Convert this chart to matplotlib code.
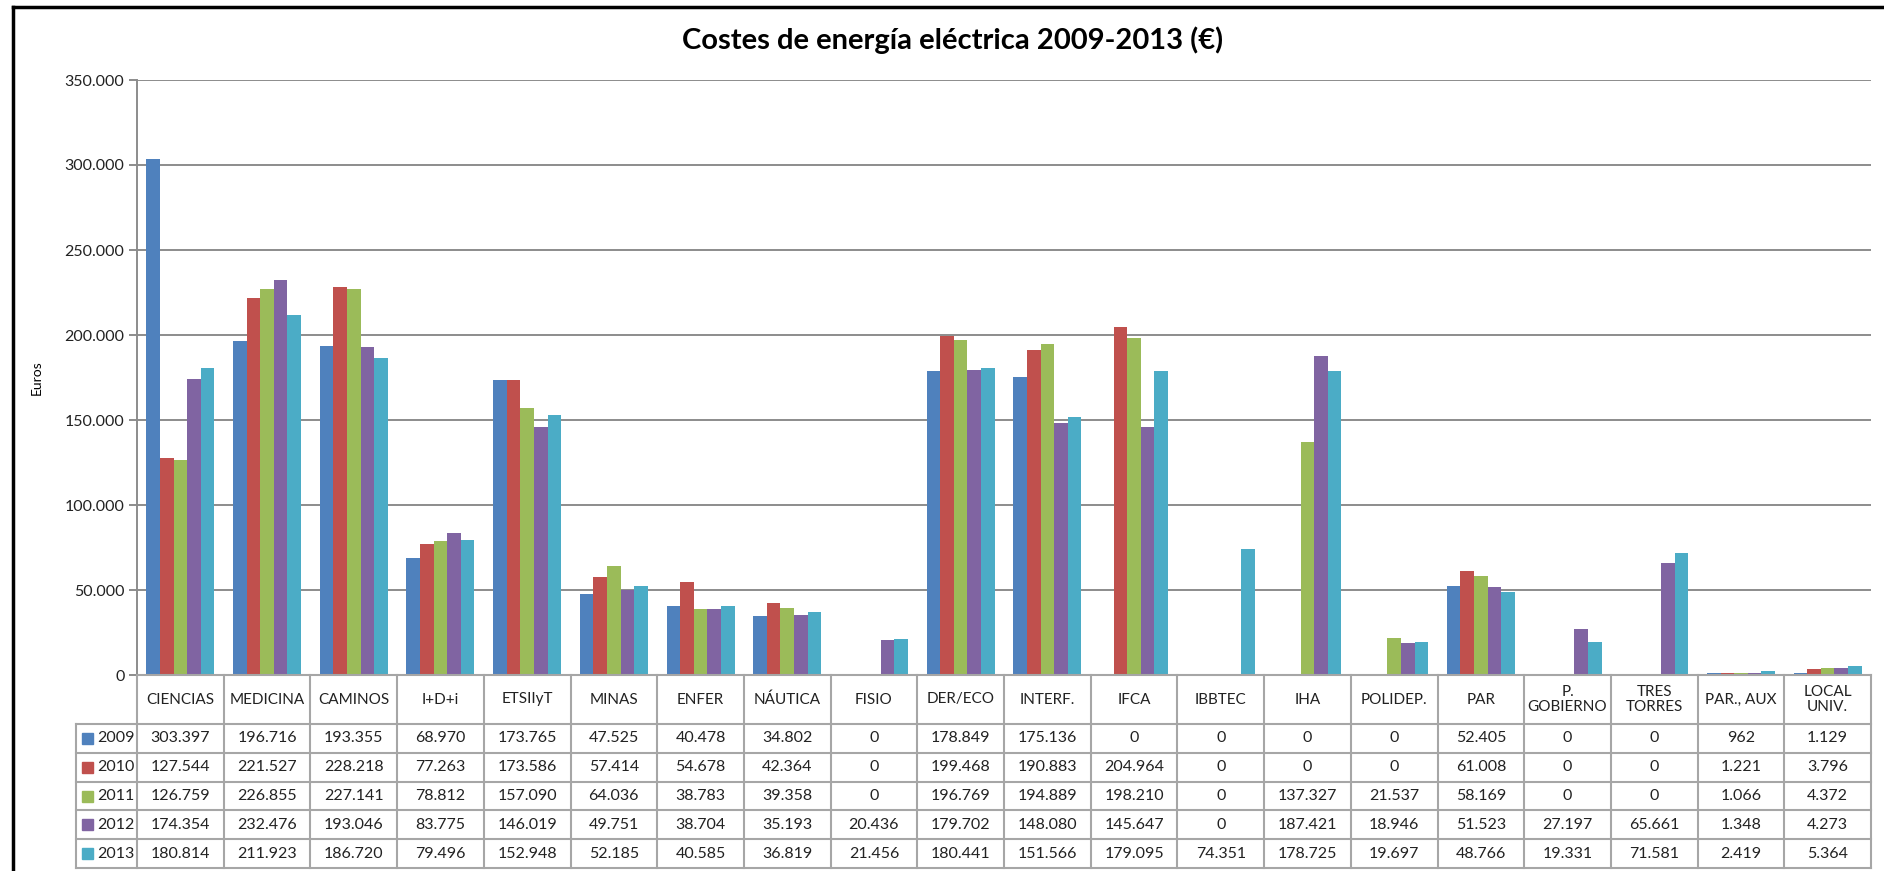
import matplotlib.pyplot as plt
from matplotlib.lines import Line2D
from matplotlib.patches import Rectangle
import numpy as np

plt.rcParams['font.family'] = ['Lato', 'DejaVu Sans']

categories = ['CIENCIAS', 'MEDICINA', 'CAMINOS', 'I+D+i', 'ETSIIyT', 'MINAS', 'ENFER',
              'NÁUTICA', 'FISIO', 'DER/ECO', 'INTERF.', 'IFCA', 'IBBTEC', 'IHA',
              'POLIDEP.', 'PAR', 'P.\nGOBIERNO', 'TRES\nTORRES', 'PAR., AUX', 'LOCAL\nUNIV.']
years = ['2009', '2010', '2011', '2012', '2013']
v2009 = [303397, 196716, 193355, 68970, 173765, 47525, 40478, 34802, 0, 178849,
         175136, 0, 0, 0, 0, 52405, 0, 0, 962, 1129]
v2010 = [127544, 221527, 228218, 77263, 173586, 57414, 54678, 42364, 0, 199468,
         190883, 204964, 0, 0, 0, 61008, 0, 0, 1221, 3796]
v2011 = [126759, 226855, 227141, 78812, 157090, 64036, 38783, 39358, 0, 196769,
         194889, 198210, 0, 137327, 21537, 58169, 0, 0, 1066, 4372]
v2012 = [174354, 232476, 193046, 83775, 146019, 49751, 38704, 35193, 20436, 179702,
         148080, 145647, 0, 187421, 18946, 51523, 27197, 65661, 1348, 4273]
v2013 = [180814, 211923, 186720, 79496, 152948, 52185, 40585, 36819, 21456, 180441,
         151566, 179095, 74351, 178725, 19697, 48766, 19331, 71581, 2419, 5364]
series = [v2009, v2010, v2011, v2012, v2013]
colors = ['#4F81BD', '#C0504D', '#9BBB59', '#8064A2', '#4BACC6']

W, H = 1884, 871
fig = plt.figure(figsize=(W / 100, H / 100), dpi=100)

# pixel layout
px_left, px_right = 137, 1871
px_top, px_zero = 80, 675
px_tab_bottom = 868

ax = fig.add_axes([px_left / W, 1 - px_zero / H, (px_right - px_left) / W, (px_zero - px_top) / H])
x = np.arange(len(categories))
bw = 0.157
for i, (vals, c) in enumerate(zip(series, colors)):
    ax.bar(x + (i - 2) * bw, vals, width=bw, color=c, zorder=3)

ax.set_xlim(-0.5, len(categories) - 0.5)
ax.set_ylim(0, 350000)
ax.set_yticks(np.arange(0, 350001, 50000))
ax.set_yticklabels([f'{int(t):,}'.replace(',', '.') for t in ax.get_yticks()], fontsize=11.5, color='#222222')
ax.yaxis.grid(True, color='#8c8c8c', linewidth=1.4, zorder=0)
ax.set_xticks([])
for s in ['top', 'right', 'bottom']:
    ax.spines[s].set_visible(False)
ax.spines['left'].set_color('#8c8c8c')
ax.spines['left'].set_linewidth(1.4)
ax.tick_params(axis='y', length=6, color='#8c8c8c', width=1.4, pad=3)
ax.set_ylabel('Euros', fontsize=10)
ax.yaxis.set_label_coords((43 - px_left) / (px_right - px_left), 0.5)

# data table below
tab = fig.add_axes([px_left / W, 1 - px_tab_bottom / H, (px_right - px_left) / W, (px_tab_bottom - px_zero) / H])
tab.set_xlim(-0.5, len(categories) - 0.5)
tab.set_ylim(px_tab_bottom - px_zero, 0)
tab.axis('off')
header_h = 49
row_h = (px_tab_bottom - px_zero - header_h) / len(years)
leg_w = (px_left - 76) / ((px_right - px_left) / len(categories))
gc = '#a6a6a6'
lw = 1.5
total_h = px_tab_bottom - px_zero

# horizontal lines
tab.plot([-0.5, len(categories) - 0.5], [0, 0], color=gc, lw=lw, clip_on=False)
for r in range(len(years) + 1):
    yy = header_h + r * row_h
    tab.plot([-0.5 - leg_w, len(categories) - 0.5], [yy, yy], color=gc, lw=lw, clip_on=False)
# vertical lines
for k in range(len(categories) + 1):
    tab.plot([k - 0.5, k - 0.5], [0, total_h], color=gc, lw=lw, clip_on=False)
tab.plot([-0.5 - leg_w] * 2, [header_h, total_h], color=gc, lw=lw, clip_on=False)

for k, cat in enumerate(categories):
    tab.text(k, header_h / 2, cat, ha='center', va='center', fontsize=11, color='#222222',
             linespacing=1.15)
    for r, vals in enumerate(series):
        tab.text(k, header_h + (r + 0.5) * row_h, f'{vals[k]:,}'.replace(',', '.'),
                 ha='center', va='center', fontsize=11.5, color='#222222')

sq = 11 / ((px_right - px_left) / len(categories))
for r, (yr, c) in enumerate(zip(years, colors)):
    yc = header_h + (r + 0.5) * row_h
    tab.add_patch(Rectangle((-0.5 - leg_w + 0.07, yc - 5.5), sq, 11, color=c, clip_on=False))
    tab.text(-0.5 - 0.03, yc, yr, ha='right', va='center', fontsize=11.5, color='#222222')

fig.text(953 / W, 1 - 40 / H, 'Costes de energía eléctrica 2009-2013 (€)', ha='center', va='center',
         fontsize=21, fontweight='bold', color='black')

# outer chart border
fig.add_artist(Line2D([13 / W, 13 / W], [0, 1 - 7 / H], color='black', lw=2.5))
fig.add_artist(Line2D([13 / W, 1], [1 - 7 / H, 1 - 7 / H], color='black', lw=2.5))

fig.savefig('out.png', dpi=100)
